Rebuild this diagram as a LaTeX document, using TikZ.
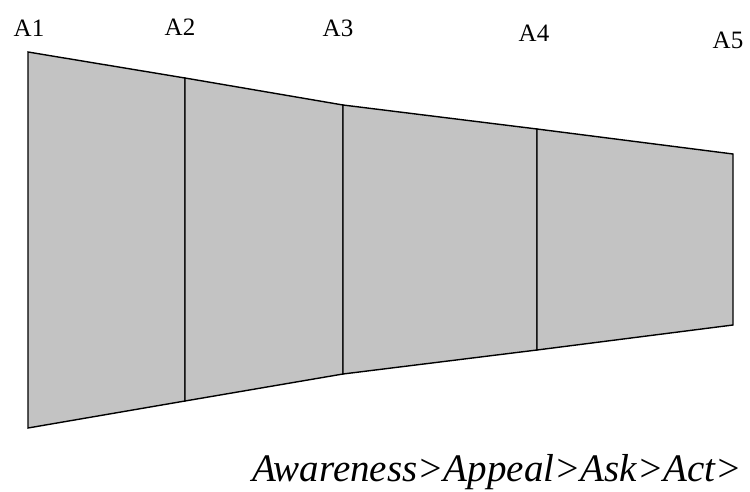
\documentclass[tikz,border=0pt]{standalone}
\usepackage{fontspec}
\setmainfont{Liberation Serif}
\definecolor{funnelgray}{HTML}{C3C3C3}
\begin{document}
\begin{tikzpicture}[x=1pt,y=-1pt,
  lab/.style={font=\fontsize{25}{27}\selectfont, inner sep=0pt},
  seg/.style={fill=funnelgray, draw=black, line width=1.4pt, line join=miter}]
\useasboundingbox (0,0) rectangle (750,492);
% corners
\coordinate (t1) at (28,52);  \coordinate (b1) at (28,428);
\coordinate (t2) at (185,78); \coordinate (b2) at (185,401);
\coordinate (t3) at (343,105); \coordinate (b3) at (343,374);
\coordinate (t4) at (537,129); \coordinate (b4) at (537,350);
\coordinate (t5) at (733,154); \coordinate (b5) at (733,325);
% sections
\draw[seg] (t1) -- (t2) -- (b2) -- (b1) -- cycle;
\draw[seg] (t2) -- (t3) -- (b3) -- (b2) -- cycle;
\draw[seg] (t3) -- (t4) -- (b4) -- (b3) -- cycle;
\draw[seg] (t4) -- (t5) -- (b5) -- (b4) -- cycle;
% labels
\node[lab] (l1) at (29,28) {A1};
\node[lab] (l2) at (180,27) {A2};
\node[lab] (l3) at (338,28) {A3};
\node[lab] (l4) at (534,33) {A4};
\node[lab] (l5) at (728,40) {A5};
% bottom text
\node[anchor=base west, inner sep=0pt, font=\itshape\fontsize{39}{41}\selectfont] (tx) at (252,481) {Awareness>Appeal>Ask>Act>};
\end{tikzpicture}
\end{document}
